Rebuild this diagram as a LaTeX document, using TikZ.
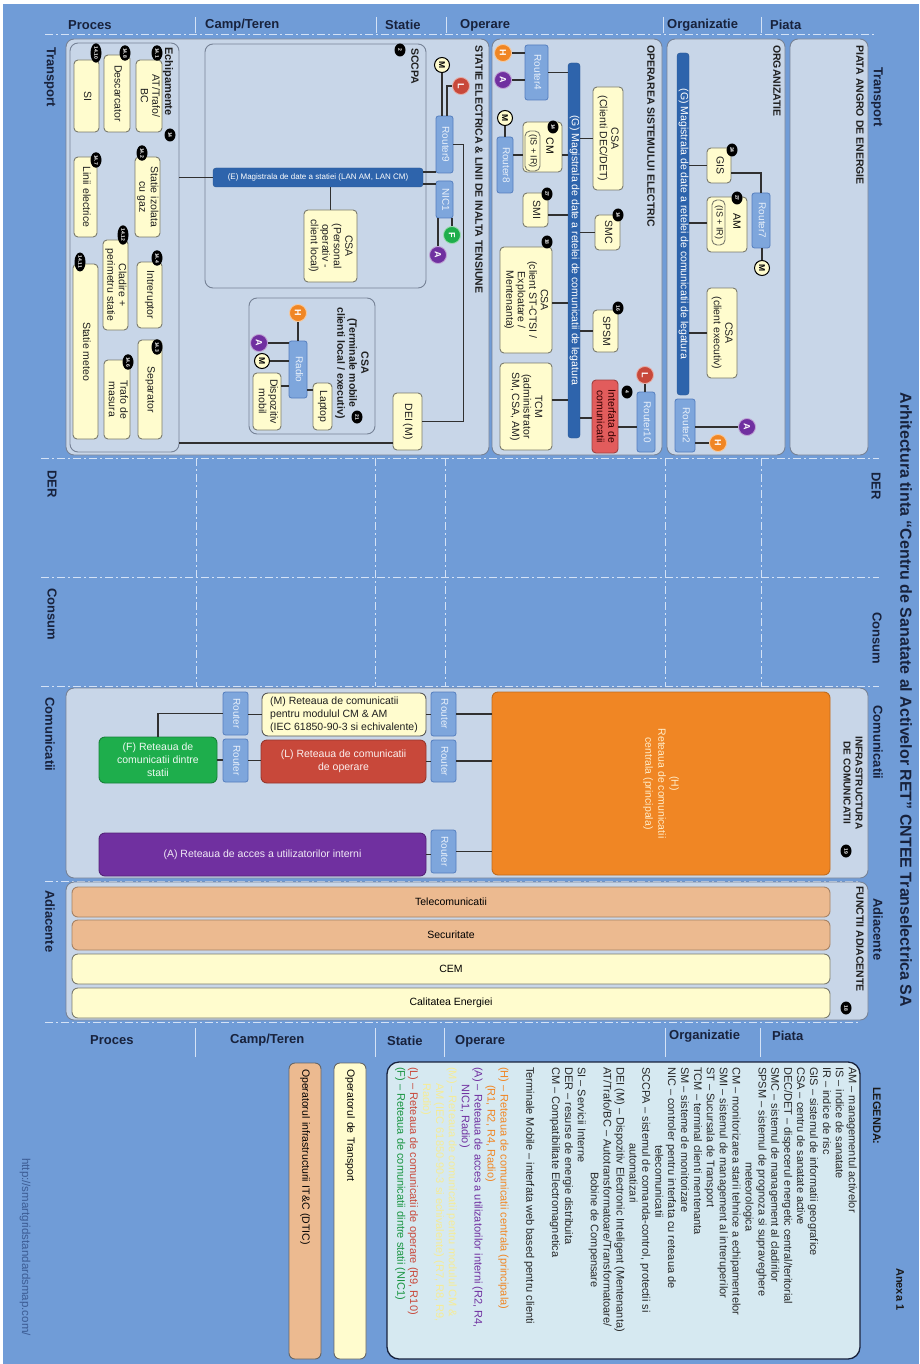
\documentclass[tikz,border=0pt]{standalone}
\usepackage{fontspec}
\setmainfont{Liberation Sans}
\usepackage{graphicx}
\usetikzlibrary{shapes.geometric}

\definecolor{bgblue}{RGB}{112,156,215}
\definecolor{panel}{RGB}{200,214,232}
\definecolor{panelline}{RGB}{118,130,150}
\definecolor{yfill}{RGB}{255,252,206}
\definecolor{yline}{RGB}{122,122,108}
\definecolor{busblue}{RGB}{46,100,172}
\definecolor{routerblue}{RGB}{126,166,220}
\definecolor{routerline}{RGB}{84,126,190}
\definecolor{routertext}{RGB}{232,240,250}
\definecolor{horange}{RGB}{240,134,36}
\definecolor{hnettext}{RGB}{255,236,200}
\definecolor{lred}{RGB}{200,72,58}
\definecolor{ifred}{RGB}{226,92,92}
\definecolor{fgreen}{RGB}{30,174,76}
\definecolor{apurple}{RGB}{112,48,160}
\definecolor{salmon}{RGB}{236,186,144}
\definecolor{legfill}{RGB}{214,233,241}
\definecolor{navy}{RGB}{24,34,60}
\definecolor{wirec}{RGB}{48,48,48}
\definecolor{guidec}{RGB}{212,226,246}
\definecolor{urlc}{RGB}{60,92,148}
\definecolor{mleg}{RGB}{246,236,150}

\newcommand{\vt}[1]{\rotatebox{-90}{\begin{tabular}{@{}c@{}}#1\end{tabular}}}

\tikzset{
  wh/.style 2 args={minimum width=#1, minimum height=#2},
  panelbox/.style={draw=panelline, fill=panel, rounded corners=8pt, line width=0.9pt, inner sep=0pt},
  ylw/.style={draw=yline, fill=yfill, rounded corners=4pt, line width=0.9pt, inner sep=0pt,
    text=black!88, font=\fontsize{10.5}{11.5}\selectfont},
  router/.style={draw=routerline, fill=routerblue, rounded corners=2.5pt, line width=0.8pt,
    inner sep=0pt, text=routertext, font=\fontsize{10}{11}\selectfont},
  bus/.style={draw=busblue!85!black, fill=busblue, rounded corners=3pt, inner sep=0pt,
    text=white, font=\fontsize{10.5}{11}\selectfont},
  netbox/.style={rounded corners=6pt, inner sep=0pt, line width=0.9pt, font=\fontsize{10.5}{13}\selectfont},
  net/.style={circle, minimum size=17pt, inner sep=0pt, rotate=-90, text=white,
    font=\bfseries\fontsize{9}{9}\selectfont, draw=white!55!#1, fill=#1, line width=0.8pt},
  mdot/.style={circle, minimum size=15pt, inner sep=0pt, rotate=-90, fill=yfill, draw=black,
    line width=1pt, font=\bfseries\fontsize{8.5}{9}\selectfont},
  badge/.style={ellipse, fill=black, text=white, inner sep=0.6pt, minimum height=11pt,
    minimum width=13pt, rotate=-90, font=\bfseries\fontsize{5}{5}\selectfont},
  wire/.style={draw=wirec, line width=1.2pt},
  zonelbl/.style={font=\bfseries\fontsize{13}{13}\selectfont, text=navy, anchor=west, inner sep=0pt},
  domlbl/.style={font=\bfseries\fontsize{13}{13}\selectfont, text=navy, rotate=-90, anchor=west, inner sep=0pt},
  ptitle/.style={font=\bfseries\fontsize{10.5}{12}\selectfont, text=black!88, rotate=-90,
    anchor=west, inner sep=0pt, align=center},
  guide/.style={draw=guidec, line width=1pt, dash pattern=on 8pt off 3pt on 2pt off 3pt},
  septick/.style={draw=guidec, line width=1pt},
}

\begin{document}
\begin{tikzpicture}[x=1pt, y=-1pt]
\useasboundingbox (0,0) rectangle (919,1364);
\fill[white] (0,0) rectangle (919,1364);
\fill[bgblue] (3,4) rectangle (919,1364);

% grid of zones and domains
\draw[guide] (45,35) -- (875,35);
\draw[guide] (41,458) -- (879,458);
\draw[guide] (41,577) -- (879,577);
\draw[guide] (41,686) -- (879,686);
\draw[guide] (45,881) -- (860,881);
\draw[guide] (45,1022) -- (860,1022);
\foreach \gx in {196,375,445,665,761}
  \draw[guide] (\gx,458) -- (\gx,686);
\foreach \gx in {195,376,446,663,761}
  \draw[septick] (\gx,17) -- (\gx,33);
\foreach \gx in {195,375,444,665,760}
  \draw[septick] (\gx,1028) -- (\gx,1057);

\node[zonelbl] (zproc) at (68,25) {Proces};
\node[zonelbl] (zcamp) at (205,25) {Camp/Teren};
\node[zonelbl] (zstat) at (385,25) {Statie};
\node[zonelbl] (zoper) at (460,25) {Operare};
\node[zonelbl] (zorg) at (667,25) {Organizatie};
\node[zonelbl] (zpiata) at (770,25) {Piata};
\node[zonelbl] (zproc2) at (90,1040) {Proces};
\node[zonelbl] (zcamp2) at (230,1040) {Camp/Teren};
\node[zonelbl] (zstat2) at (387,1041) {Statie};
\node[zonelbl] (zoper2) at (455,1041) {Operare};
\node[zonelbl] (zorg2) at (669,1036) {Organizatie};
\node[zonelbl] (zpiata2) at (772,1036) {Piata};

\node[domlbl] (dtr) at (50,47) {Transport};
\node[domlbl] (dtr2) at (877,67) {Transport};
\node[domlbl] (dder) at (52,470) {DER};
\node[domlbl] (dder2) at (876,472) {DER};
\node[domlbl] (dcons) at (52,588) {Consum};
\node[domlbl] (dcons2) at (877,612) {Consum};
\node[domlbl] (dcom) at (50,697) {Comunicatii};
\node[domlbl] (dcom2) at (878,705) {Comunicatii};
\node[domlbl] (dadj) at (50,890) {Adiacente};
\node[domlbl] (dadj2) at (878,898) {Adiacente};

\node[rotate=-90, text=navy, font=\bfseries\fontsize{16}{16}\selectfont] (title) at (906,700)
  {Arhitectura tinta “Centru de Sanatate al Activelor RET” CNTEE Transelectrica SA};

% panels
\node[panelbox, wh={423}{416}] (pstatie) at (277.5,247) {};
\node[panelbox, wh={109}{409}] (echip) at (124.5,247.5) {};
\node[panelbox, wh={221}{244}] (sccpa) at (315.5,166) {};
\node[panelbox, wh={126}{136}] (pterm) at (312,366) {};
\node[panelbox, wh={170}{416}] (poper) at (577,247) {};
\node[panelbox, wh={118}{416}] (porg) at (726,247) {};
\node[panelbox, wh={78}{416}] (ppiata) at (829,247) {};
\node[panelbox, wh={802}{190}] (pcom) at (467,783) {};
\node[panelbox, wh={802}{138}] (padj) at (467,951) {};

\node[ptitle, font=\bfseries\fontsize{11}{12}\selectfont] (techip) at (168,47) {Echipamente};
\node[ptitle] (tsccpa) at (415,48) {SCCPA};
\node[ptitle] (tstatie) at (479,45) {STATIE ELECTRICA \& LINII DE INALTA TENSIUNE};
\node[ptitle] (toper) at (651,45) {OPERAREA SISTEMULUI ELECTRIC};
\node[ptitle] (torg) at (777,45) {ORGANIZATIE};
\node[ptitle] (tpiata) at (860,45) {PIATA ANGRO DE ENERGIE};
\node[ptitle, anchor=center] (tterm) at (352,363) {CSA\\(Terminale mobile\\clienti local / executiv)};
\node[ptitle, anchor=center, font=\bfseries\fontsize{10}{12}\selectfont] (tinfra) at (853,783) {INFRASTRUCTURA\\DE COMUNICATII};
\node[ptitle] (tfunc) at (860,886) {FUNCTII ADIACENTE};

% equipment of the substation
\node[ylw, wh={25}{72}] (si) at (86.5,96) {\vt{SI}};
\node[ylw, wh={26}{77}] (desc) at (117,93.5) {\vt{Descarcator}};
\node[ylw, wh={26}{72}] (attrafo) at (149,96) {\vt{AT/Trafo/\\BC}};
\node[ylw, wh={23}{80}] (linii) at (85.5,197) {\vt{Linii electrice}};
\node[ylw, wh={25}{80}] (sig) at (147.5,197) {\vt{Statie izolata\\cu gaz}};
\node[ylw, wh={25}{90}] (cladire) at (115.5,285) {\vt{Cladire +\\perimetru statie}};
\node[ylw, wh={25}{175}] (meteo) at (85.5,351.5) {\vt{Statie meteo}};
\node[ylw, wh={25}{66}] (intrer) at (149.5,295) {\vt{Intreruptor}};
\node[ylw, wh={24}{99}] (separ) at (150,389.5) {\vt{Separator}};
\node[ylw, wh={26}{79}] (trafom) at (117,399.5) {\vt{Trafo de\\masura}};

% SCCPA
\node[bus, font=\fontsize{8}{9}\selectfont, wh={210}{19}] (busE) at (318,177.5)
  {(E) Magistrala de date a statiei (LAN AM, LAN CM)};
\node[ylw, wh={53}{72}] (csapers) at (330.5,246) {\vt{CSA\\(Personal\\operativ -\\client local)}};
\node[router, wh={17}{57}] (router9) at (444.5,144.5) {\vt{Router9}};
\node[router, wh={17}{37}] (nic1) at (444.5,199.5) {\vt{NIC1}};
\node[mdot] (m9) at (442,65) {M};
\node[net=lred] (l9) at (461,86) {L};
\node[net=fgreen] (f1) at (452,235) {F};
\node[net=apurple] (a1) at (438,255) {A};
\node[ylw, wh={29}{57}] (dei) at (407.5,421.5) {\vt{DEI (M)}};

% mobile terminals
\node[router, wh={18}{57}] (radio) at (298,369.5) {\vt{Radio}};
\node[ylw, wh={28}{57}] (dispoz) at (267,401.5) {\vt{Dispozitiv\\mobil}};
\node[ylw, wh={19}{47}] (laptop) at (322.5,406.5) {\vt{Laptop}};
\node[net=horange] (h3) at (298,313) {H};
\node[net=apurple] (a3) at (259,343) {A};
\node[mdot] (m3) at (262,361) {M};

% operation of the power system
\node[router, wh={23}{55}] (router4) at (536.5,72.5) {\vt{Router4}};
\node[bus, wh={12}{375}] (busG1) at (574,250.5)
  {\vt{(G) Magistrala de date a retelei de comunicatii de legatura}};
\node[ylw, wh={30}{103}] (csadec) at (608,138.5) {\vt{CSA\\(Clienti DEC/DET)}};
\node[router, wh={16}{56}] (router8) at (505,165) {\vt{Router8}};
\node[ylw, wh={39}{50}] (cm) at (542.5,147) {};
\node[ylw, rounded corners=5pt, font=\fontsize{9}{10}\selectfont, wh={15}{40}] (cmis) at (532.5,151) {\vt{(IS + IR)}};
\node[rotate=-90, inner sep=0pt, font=\fontsize{10.5}{11}\selectfont] (cmlbl) at (550,146) {CM};
\node[ylw, wh={25}{34}] (smi) at (535.5,210) {\vt{SMI}};
\node[ylw, wh={25}{35}] (smc) at (607.5,232.5) {\vt{SMC}};
\node[ylw, wh={52}{106}] (csast) at (526,300) {\vt{CSA\\(client ST-CTSI /\\Exploatare /\\Mentenanta)}};
\node[ylw, wh={25}{42}] (spsm) at (605.5,331) {\vt{SPSM}};
\node[ylw, wh={52}{87}] (tcm) at (526,406.5) {\vt{TCM\\(administrator\\SM, CSA, AM)}};
\node[ylw, fill=ifred, draw=ifred!70!black, text=black!80!red, wh={26}{73}] (interf) at (605,416.5) {\vt{Interfata de\\comunicatii}};
\node[router, wh={18}{60}] (router10) at (646,422) {\vt{Router10}};
\node[net=horange] (h4) at (503,53) {H};
\node[net=apurple] (a4) at (503,80) {A};
\node[mdot] (m8) at (505,118) {M};
\node[net=lred] (l10) at (645,375) {L};

% organisation
\node[bus, wh={12}{342}] (busG2) at (683,224)
  {\vt{(G) Magistrala de date a retelei de comunicatii de legatura}};
\node[ylw, wh={24}{35}] (gis) at (719,165.5) {\vt{GIS}};
\node[router, wh={18}{55}] (router7) at (761,220.5) {\vt{Router7}};
\node[ylw, wh={40}{55}] (am) at (727,224.5) {};
\node[ylw, rounded corners=5pt, font=\fontsize{9}{10}\selectfont, wh={13}{45}] (amis) at (718.5,222.5) {\vt{(IS + IR)}};
\node[rotate=-90, inner sep=0pt, font=\fontsize{10.5}{11}\selectfont] (amlbl) at (737,221) {AM};
\node[ylw, wh={30}{90}] (csaexec) at (722,333) {\vt{CSA\\(client executiv)}};
\node[router, wh={20}{53}] (router2) at (685,425.5) {\vt{Router2}};
\node[mdot] (m7) at (762,268) {M};
\node[net=apurple] (a2) at (747,427) {A};
\node[net=horange] (h2) at (718,443) {H};

% badges
\node[badge] (b1410) at (96,53) {14.10};
\node[badge] (b148) at (125,53) {14.8};
\node[badge] (b141) at (157,53) {14.1};
\node[badge] (b147) at (96,160) {14.7};
\node[badge] (b142) at (142,153) {14.2};
\node[badge] (b1412) at (123,235) {14.12};
\node[badge] (b1411) at (80,262) {14.11};
\node[badge] (b144) at (157,258) {14.4};
\node[badge] (b143) at (157,347) {14.3};
\node[badge] (b146) at (128,362) {14.6};
\node[badge] (b14e) at (170,135) {14};
\node[badge] (b2) at (400,50) {2};
\node[badge] (b21) at (357,417) {21};
\node[badge] (b14cm) at (553,127) {14};
\node[badge] (b27smi) at (547,194) {27};
\node[badge] (b14smc) at (618,215) {14};
\node[badge] (b18) at (547,242) {18};
\node[badge] (b16) at (618,308) {16};
\node[badge] (b4) at (627,392) {4};
\node[badge] (b24) at (732,150) {24};
\node[badge] (b27am) at (737,198) {27};
\node[badge] (b19) at (846,851) {19};
\node[badge] (b18f) at (846,1008) {18};

% connections in the transport zone
\draw[wire] (echip.east |- busE.west) -- (busE.west);
\draw[wire] (echip.east |- 0,443) -- (dei.west |- 0,443);
\draw[wire] (busE.east |- 0,172) -- (router9.west |- 0,172);
\draw[wire] (busE.east |- 0,184) -- (nic1.west |- 0,184);
\draw[wire] (csapers.north) -- (csapers.north |- busE.south);
\draw[wire] (m9) -- (m9 |- router9.north);
\draw[wire] ([xshift=2.5pt]router9.north) |- (l9);
\draw[wire] (router9.east) -| ([xshift=41pt]dei.east) -- (dei.east);
\draw[wire] (f1) -- (f1 |- nic1.south);
\draw[wire] (a1) -- (a1 |- nic1.south);
\draw[wire] (h3) -- (h3 |- radio.north);
\draw[wire] (a3) -- (a3 -| radio.west);
\draw[wire] (m3) -- (m3 -| radio.west);
\draw[wire] (dispoz.east |- 0,386) -- (radio.west |- 0,386);
\draw[wire] (radio.east |- 0,390) -- (laptop.west |- 0,390);
\draw[wire] (h4) -- (h4 -| router4.west);
\draw[wire] (a4) -- (a4 -| router4.west);
\draw[wire] (router4.east) -- (router4.east -| busG1.west);
\draw[wire] (csadec.west) -- (csadec.west -| busG1.east);
\draw[wire] (m8) -- (m8 |- router8.north);
\draw[wire] (router8.east |- 0,155) -- (cm.west |- 0,155);
\draw[wire] (cm.east |- 0,155) -- (busG1.west |- 0,155);
\draw[wire] (smi.east |- 0,215) -- (busG1.west |- 0,215);
\draw[wire] (smc.west) -- (smc.west -| busG1.east);
\draw[wire] (csast.east |- 0,303) -- (busG1.west |- 0,303);
\draw[wire] (spsm.west) -- (spsm.west -| busG1.east);
\draw[wire] (tcm.east |- 0,400) -- (busG1.west |- 0,400);
\draw[wire] (interf.west |- 0,418) -- (busG1.east |- 0,418);
\draw[wire] (l10) -- (l10 |- router10.north);
\draw[wire] (interf.east |- 0,427) -- (router10.west |- 0,427);
\draw[wire] (gis.west) -- (gis.west -| busG2.east);
\draw[wire] (gis.east |- 0,173) -| (router7.north);
\draw[wire] (am.west |- 0,223) -- (busG2.east |- 0,223);
\draw[wire] (m7) -- (m7 |- router7.south);
\draw[wire] (csaexec.west) -- (csaexec.west -| busG2.east);
\draw[wire] (router2.east |- a2) -- (a2);
\draw[wire] (router2.east |- h2) -- (h2);

% communication infrastructure
\node[netbox, fill=horange, draw=horange!80!black, text=hnettext, wh={338}{183}] (hnet) at (661,783.5)
  {\vt{(H)\\Reteaua de comunicatii\\centrala (principala)}};
\node[router, wh={25}{44}] (rm2) at (443.5,714) {\vt{Router}};
\node[router, wh={25}{42}] (rl2) at (443.5,761) {\vt{Router}};
\node[router, wh={25}{43}] (ra) at (443.5,851.5) {\vt{Router}};
\node[router, wh={25}{43}] (rm1) at (235.5,713.5) {\vt{Router}};
\node[router, wh={25}{43}] (rl1) at (235.5,760.5) {\vt{Router}};
\node[netbox, fill=yfill, draw=black!65, text=black!88, align=left, wh={164}{43}] (mnet) at (344,714.5)
  {(M) Reteaua de comunicatii\\pentru modulul CM \& AM\\(IEC 61850-90-3 si echivalente)};
\node[netbox, fill=lred, draw=lred!75!black, text=white!92!lred, align=center, wh={165}{43}] (lnet) at (343.5,761.5)
  {(L) Reteaua de comunicatii\\de operare};
\node[netbox, fill=fgreen, draw=fgreen!75!black, text=white!92!fgreen, align=center, wh={118}{46}] (fnet) at (158,760)
  {(F) Reteaua de\\comunicatii dintre\\statii};
\node[netbox, fill=apurple, draw=apurple!75!black, text=white!90!apurple, wh={327}{43}] (anet) at (262.5,854.5)
  {(A) Reteaua de acces a utilizatorilor interni};
\draw[wire] (rm2.east) -- (rm2.east -| hnet.west);
\draw[wire] (rl2.east) -- (rl2.east -| hnet.west);
\draw[wire] (ra.east) -- (ra.east -| hnet.west);
\draw[wire] (mnet.east) -- (mnet.east -| rm2.west);
\draw[wire] (lnet.east) -- (lnet.east -| rl2.west);
\draw[wire] (anet.east) -- (anet.east -| ra.west);
\draw[wire] (mnet.west) -- (mnet.west -| rm1.east);
\draw[wire] (rm1.west) -| (fnet.north);
\draw[wire] (fnet.east) -- (fnet.east -| rl1.west);
\draw[wire] (rl1.east) -- (rl1.east -| lnet.west);

% adjacent functions
\node[netbox, fill=salmon, draw=salmon!70!black, wh={758}{30}] (telecom) at (451,902) {Telecomunicatii};
\node[netbox, fill=salmon, draw=salmon!70!black, wh={758}{30}] (secur) at (451,935) {Securitate};
\node[netbox, fill=yfill, draw=yline, wh={758}{30}] (cem) at (451,969) {CEM};
\node[netbox, fill=yfill, draw=yline, wh={758}{30}] (calit) at (451,1003) {Calitatea Energiei};

% operators and legend
\node[netbox, fill=yfill, draw=black!60, rotate=-90, wh={296}{32}, text width=284pt, align=left] (optrans) at (350,1211)
  {Operatorul de Transport};
\node[netbox, fill=salmon, draw=black!60, rotate=-90, wh={296}{32}, text width=284pt, align=left] (opit) at (305,1211)
  {Operatorul infrastructurii IT\&C (DTIC)};
\node[rotate=-90, anchor=west, inner sep=0pt, text=urlc, font=\fontsize{11.5}{12}\selectfont] (url) at (25,1158)
  {http://smartgridstandardsmap.com/};

\node[draw=navy, fill=legfill, line width=1.3pt, rounded corners=12pt, wh={473}{297}] (legbox) at (623.5,1210.5) {};
\node[domlbl, text=black!90, font=\bfseries\fontsize{11}{11}\selectfont] (legtitle) at (877,1087) {LEGENDA:};
\node[domlbl, text=black!90, font=\bfseries\fontsize{11}{11}\selectfont] (anexa) at (900,1268) {Anexa 1};
\node[rotate=-90, anchor=north west, align=left, inner sep=0pt, text=black!85,
  font=\fontsize{11}{12.9}\selectfont] (legtext) at (857,1067) {%
AM – managementul activelor\\
IS – indice de sanatate\\
IR – indice de risc\\
GIS – sistemul de informatii geografice\\
CSA – centru de sanatate active\\
DEC/DET – dispecerul energetic central/teritorial\\
SMC – sistemul de management al cladirilor\\
SPSM – sistemul de prognoza si supraveghere\\
\hspace*{95pt}meteorologica\\
CM – monitorizarea starii tehnice a echipamentelor\\
SMI – sistemul de management al intreruperilor\\
ST – Sucursala de Transport\\
TCM – terminal clienti mentenanta\\
SM – sisteme de monitorizare\\
NIC – controler pentru interfata cu reteaua de\\
\hspace*{78pt}telecomunicatii\\
SCCPA – sistemul de comanda-control, protectii si\\
\hspace*{76pt}automatizari\\
DEI (M) – Dispozitiv Electronic Inteligent (Mentenanta)\\
AT/Trafo/BC – Autotransformatoare/Transformatoare/\\
\hspace*{105pt}Bobine de Compensare\\
SI – Servicii Interne\\
DER – resurse de energie distribuita\\
CM – Compatibilitate Electromagnetica\\[12.9pt]
Terminale Mobile – interfata web based pentru clienti\\[12.9pt]
\textcolor{horange}{(H) – Reteaua de comunicatii centrala (principala)}\\
\textcolor{horange}{\hspace*{18pt}(R1, R2, R4, Radio)}\\
\textcolor{apurple}{(A) – Reteaua de acces a utilizatorilor interni (R2, R4,}\\
\textcolor{apurple}{\hspace*{17pt}NIC1, Radio)}\\
\textcolor{mleg}{(M) – Reteaua de comunicatii pentru modulul CM \&}\\
\textcolor{mleg}{\hspace*{16pt}AM (IEC 61850-90-3 si echivalente) (R7, R8, R9,}\\
\textcolor{mleg}{\hspace*{16pt}Radio)}\\
\textcolor{lred}{(L) – Reteaua de comunicatii de operare (R9, R10)}\\
\textcolor{fgreen!85!black}{(F) – Reteaua de comunicatii dintre statii (NIC1)}};
\end{tikzpicture}
\end{document}
